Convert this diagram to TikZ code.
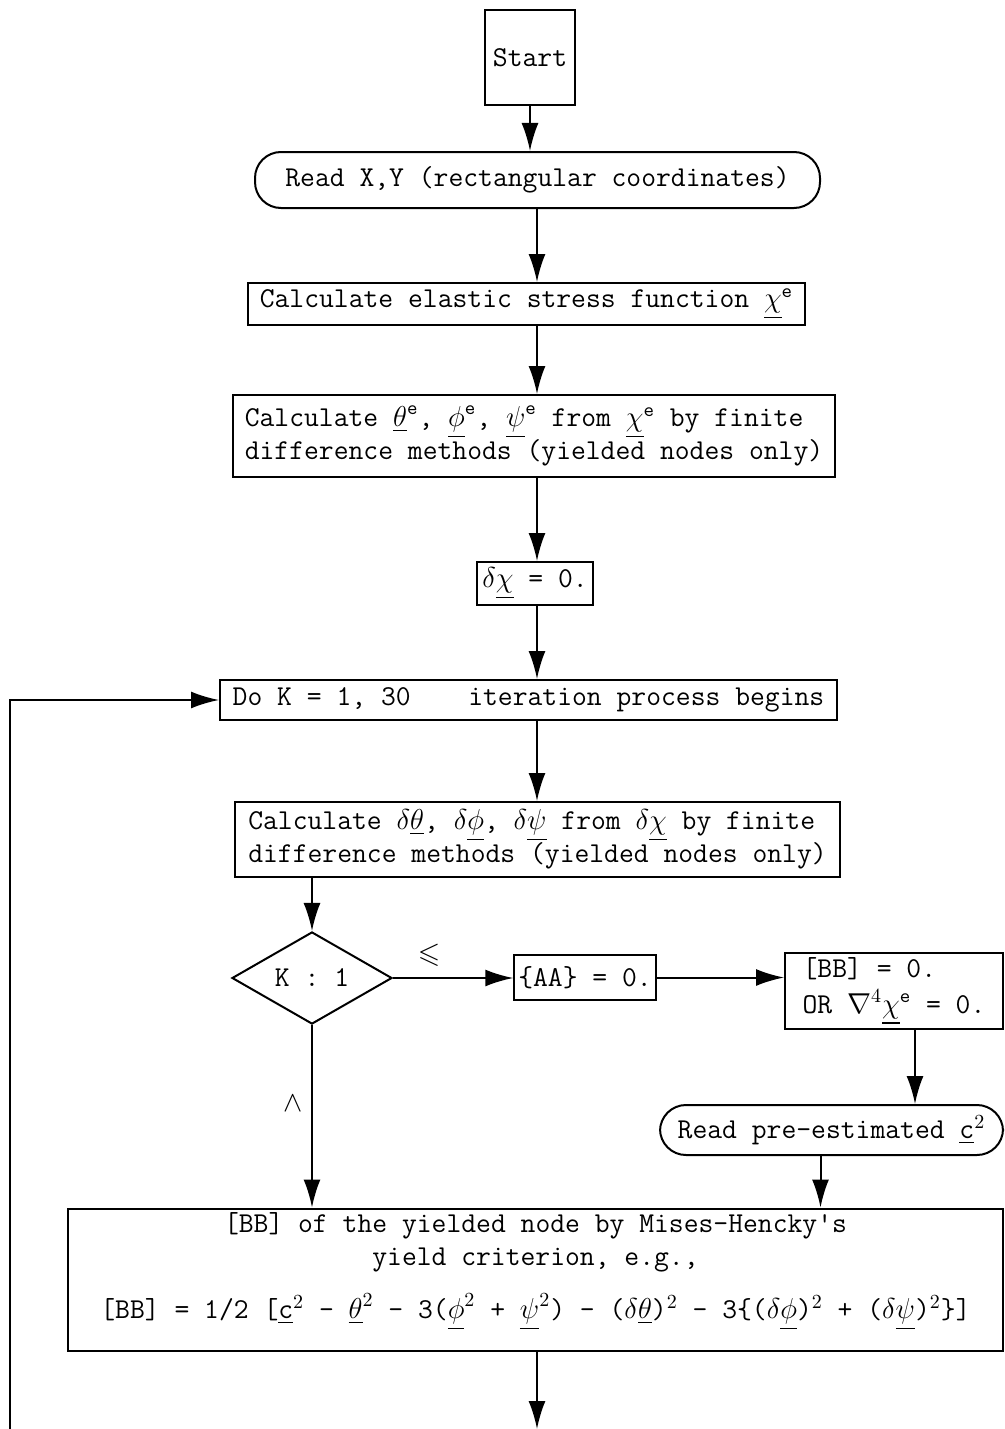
\documentclass[tikz,border=0pt]{standalone}
\usepackage{fontspec}
\usepackage{amssymb}
\usetikzlibrary{arrows.meta,shapes.geometric,calc}
\newcommand{\uvec}[1]{\underline{#1}}
\tikzset{
  box/.style={draw,line width=1pt,inner sep=2pt,font=\fontsize{14.4}{15}\selectfont\ttfamily},
  roundbox/.style={box,rounded corners=13pt},
  decision/.style={box,diamond,inner sep=0pt},
  arr/.style={line width=1pt,-{Latex[length=14pt,width=8.5pt]}},
  lbl/.style={font=\fontsize{14.4}{15}\selectfont}
}
\begin{document}
\begin{tikzpicture}[x=0.5pt,y=-0.5pt]
\useasboundingbox (0,0) rectangle (1005,1429);
\coordinate (col) at (537,0);
\node[box,minimum width=45pt,minimum height=47.5pt] (start) at (530,57.5) {Start};
\node[roundbox,minimum width=282.5pt,minimum height=28pt] (read) at (537.5,180) {Read X,Y (rectangular coordinates)};
\node[box,minimum width=278.5pt,minimum height=21pt] (elastic) at (526.5,304) {Calculate elastic stress function $\uvec{\chi}^{\mathtt{e}}$};
\node[box,align=left,minimum width=301pt,minimum height=41pt] (thetae) at (534,436) {Calculate $\uvec{\theta}^{\mathtt{e}}$, $\uvec{\phi}^{\mathtt{e}}$, $\uvec{\psi}^{\mathtt{e}}$ from $\uvec{\chi}^{\mathtt{e}}$ by finite\\difference methods (yielded nodes only)};
\node[box,minimum width=58pt,minimum height=21.5pt] (dchi) at (535,583.5) {$\delta\uvec{\chi}$ = 0.};
\node[box,minimum width=308.5pt,minimum height=20pt] (doloop) at (528.5,700) {Do K = 1, 30\quad\quad iteration process begins};
\node[box,align=left,minimum width=302.5pt,minimum height=37.5pt] (dtheta) at (537.5,839.5) {Calculate $\delta\uvec{\theta}$, $\delta\uvec{\phi}$, $\delta\uvec{\psi}$ from $\delta\uvec{\chi}$ by finite\\difference methods (yielded nodes only)};
\node[decision,minimum width=80pt,minimum height=43.5pt] (test) at (312,978) {K : 1};
\node[box,minimum width=70pt,minimum height=22.5pt] (aa) at (585,977.5) {\{AA\} = 0.};
\node[box,align=left,minimum width=109pt,minimum height=36pt] (bb) at (894,991) {[BB] = 0.\\[3pt]OR $\nabla^4\uvec{\chi}^{\mathtt{e}}$ = 0.};
\node[roundbox,minimum width=171.5pt,minimum height=25pt] (readc) at (831.5,1130) {Read pre-estimated \uvec{c}$^2$};
\node[box,align=center,minimum width=467.5pt,minimum height=67.5pt,text depth=14pt,font=\fontsize{14.4}{16.5}\selectfont\ttfamily] (crit) at (535.5,1279.5) {[BB] of the yielded node by Mises-Hencky's\\yield criterion, e.g.,\\[10pt][BB] = 1/2 [\uvec{c}$^2$ - $\uvec{\theta}^2$ - 3($\uvec{\phi}^2$ + $\uvec{\psi}^2$) - ($\delta\uvec{\theta}$)$^2$ - 3\{($\delta\uvec{\phi}$)$^2$ + ($\delta\uvec{\psi}$)$^2$\}]};
\coordinate (bbout) at ($(bb.south)+(21,0)$);
\coordinate (readcout) at ($(readc.south)+(-11,0)$);
\coordinate (outend) at (537,1429);
\coordinate (loopend) at (10,1429);
\draw[arr] (start.south) -- (start.south |- read.north);
\draw[arr] (read.south -| col) -- (elastic.north -| col);
\draw[arr] (elastic.south -| col) -- (thetae.north -| col);
\draw[arr] (thetae.south -| col) -- (dchi.north -| col);
\draw[arr] (dchi.south -| col) -- (doloop.north -| col);
\draw[arr] (doloop.south -| col) -- (dtheta.north -| col);
\draw[arr] (dtheta.south -| test.north) -- (test.north);
\draw[arr] (test.east) -- (test.east -| aa.west) node[lbl,pos=0.3,above=2pt] {$\leqslant$};
\draw[arr] (aa.east) -- (aa.east -| bb.west);
\draw[arr] (bbout) -- (bbout |- readc.north);
\draw[arr] (test.south) -- (test.south |- crit.north) node[lbl,pos=0.43,left=1pt] {$\wedge$};
\draw[arr] (readcout) -- (readcout |- crit.north);
\draw[arr] (crit.south -| outend) -- (outend);
\draw[arr] (loopend) |- (doloop.west);
\end{tikzpicture}
\end{document}
